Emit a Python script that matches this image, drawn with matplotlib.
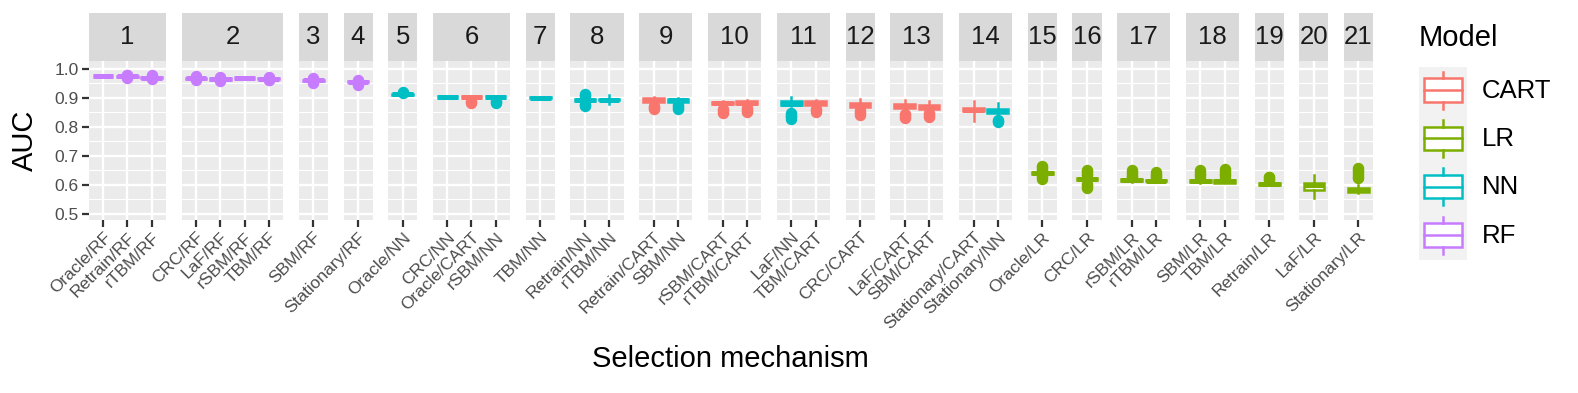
import matplotlib
matplotlib.use('Agg')
import matplotlib.pyplot as plt
from matplotlib.patches import Rectangle
from matplotlib.lines import Line2D
from matplotlib.transforms import ScaledTranslation

W, H = 1578, 393
plt.rcParams['font.family'] = ['Liberation Sans', 'DejaVu Sans']

# ---------------- data ----------------
panel_labels = [str(i) for i in range(1, 22)]

categories = ["Oracle/RF", "Retrain/RF", "rTBM/RF",
              "CRC/RF", "LaF/RF", "rSBM/RF", "TBM/RF",
              "SBM/RF",
              "Stationary/RF",
              "Oracle/NN",
              "CRC/NN", "Oracle/CART", "rSBM/NN",
              "TBM/NN",
              "Retrain/NN", "rTBM/NN",
              "Retrain/CART", "SBM/NN",
              "rSBM/CART", "rTBM/CART",
              "LaF/NN", "TBM/CART",
              "CRC/CART",
              "LaF/CART", "SBM/CART",
              "Stationary/CART", "Stationary/NN",
              "Oracle/LR",
              "CRC/LR",
              "rSBM/LR", "rTBM/LR",
              "SBM/LR", "TBM/LR",
              "Retrain/LR",
              "LaF/LR",
              "Stationary/LR"]

cat_panel = [1, 1, 1, 2, 2, 2, 2, 3, 4, 5, 6, 6, 6, 7, 8, 8, 9, 9, 10, 10,
             11, 11, 12, 13, 13, 14, 14, 15, 16, 17, 17, 18, 18, 19, 20, 21]

cat_model = [c.split("/")[1] for c in categories]

med = [0.975, 0.974, 0.970, 0.968, 0.965, 0.969, 0.966, 0.960, 0.955, 0.912,
       0.903, 0.903, 0.903, 0.900, 0.893, 0.894, 0.893, 0.892, 0.882, 0.883,
       0.880, 0.881, 0.875, 0.870, 0.868, 0.859, 0.855, 0.640, 0.619, 0.615,
       0.614, 0.612, 0.612, 0.603, 0.598, 0.580]
q1 = [0.974, 0.972, 0.968, 0.966, 0.963, 0.968, 0.964, 0.958, 0.953, 0.911,
      0.902, 0.902, 0.902, 0.899, 0.890, 0.891, 0.887, 0.886, 0.877, 0.878,
      0.874, 0.874, 0.869, 0.863, 0.862, 0.853, 0.849, 0.637, 0.615, 0.612,
      0.611, 0.608, 0.607, 0.600, 0.580, 0.575]
q3 = [0.976, 0.976, 0.972, 0.970, 0.967, 0.970, 0.968, 0.962, 0.957, 0.913,
      0.904, 0.904, 0.904, 0.901, 0.896, 0.897, 0.899, 0.897, 0.887, 0.888,
      0.890, 0.888, 0.882, 0.878, 0.875, 0.866, 0.862, 0.643, 0.623, 0.618,
      0.617, 0.616, 0.617, 0.606, 0.607, 0.588]
whislo = [0.973, 0.971, 0.967, 0.965, 0.962, 0.967, 0.963, 0.957, 0.952, 0.910,
          0.901, 0.901, 0.901, 0.898, 0.888, 0.877, 0.885, 0.884, 0.875, 0.876,
          0.872, 0.872, 0.866, 0.860, 0.859, 0.821, 0.845, 0.635, 0.612, 0.610,
          0.609, 0.606, 0.605, 0.598, 0.555, 0.570]
whishi = [0.977, 0.977, 0.973, 0.971, 0.968, 0.971, 0.969, 0.963, 0.958, 0.914,
          0.905, 0.905, 0.905, 0.902, 0.898, 0.909, 0.901, 0.899, 0.890, 0.893,
          0.901, 0.893, 0.896, 0.893, 0.890, 0.889, 0.881, 0.645, 0.626, 0.620,
          0.619, 0.618, 0.620, 0.608, 0.633, 0.600]
fliers = [
    [],
    [0.969, 0.971, 0.978, 0.980],
    [0.964, 0.967, 0.974, 0.977],
    [0.962, 0.965, 0.972, 0.975],
    [0.957, 0.960, 0.970, 0.973],
    [],
    [0.961, 0.963, 0.970, 0.972],
    [0.952, 0.955, 0.965, 0.967],
    [0.945, 0.948, 0.958, 0.960],
    [0.917, 0.921],
    [],
    [0.882, 0.886, 0.890],
    [0.882, 0.886, 0.890],
    [],
    [0.872, 0.876, 0.880, 0.906, 0.910, 0.913],
    [],
    [0.860, 0.864, 0.868, 0.872],
    [0.862, 0.866, 0.870, 0.874],
    [0.848, 0.852, 0.857, 0.862],
    [0.852, 0.856, 0.860, 0.865],
    [0.827, 0.832, 0.837, 0.842, 0.847],
    [0.852, 0.857, 0.862],
    [0.842, 0.847, 0.852, 0.857],
    [0.830, 0.835, 0.840, 0.845],
    [0.833, 0.838, 0.843, 0.848],
    [],
    [0.816, 0.820, 0.825],
    [0.620, 0.625, 0.630, 0.650, 0.655, 0.660, 0.666],
    [0.588, 0.593, 0.598, 0.603, 0.633, 0.638, 0.643, 0.648, 0.652],
    [0.625, 0.630, 0.635, 0.640, 0.645, 0.649],
    [0.625, 0.628, 0.633, 0.638, 0.645],
    [0.627, 0.632, 0.638, 0.643, 0.649],
    [0.627, 0.632, 0.638, 0.644, 0.650, 0.655],
    [0.615, 0.620, 0.625, 0.628],
    [],
    [0.622, 0.628, 0.634, 0.640, 0.646, 0.652, 0.656],
]

model_names = ["CART", "LR", "NN", "RF"]
model_colors = {"CART": "#F8766D", "LR": "#7CAE00", "NN": "#00BFC4", "RF": "#C77CFF"}

y_breaks = [0.5, 0.6, 0.7, 0.8, 0.9, 1.0]
y_minor = [0.55, 0.65, 0.75, 0.85, 0.95]

# ---------------- figure ----------------
fig = plt.figure(figsize=(W / 100, H / 100), dpi=100)
npan = len(panel_labels)
counts = [cat_panel.count(p + 1) for p in range(npan)]

left_px, right_px, top_px, bot_px = 88.7, 1373.0, 61.0, 220.0
gap_px = 15.6
avg_w = (right_px - left_px - (npan - 1) * gap_px) / npan
gs = fig.add_gridspec(1, npan, left=left_px / W, right=right_px / W,
                      top=1 - top_px / H, bottom=1 - bot_px / H,
                      width_ratios=[c + 0.2 for c in counts],
                      wspace=gap_px / avg_w)

strip_h = 47.7 / (bot_px - top_px)
tick_col = "#333333"
txt_col = "#4D4D4D"
lab_shift = ScaledTranslation(4 / 100, -5 / 100, fig.dpi_scale_trans)

for p in range(npan):
    ax = fig.add_subplot(gs[0, p])
    idx = [i for i, c in enumerate(cat_panel) if c == p + 1]
    n = len(idx)
    ax.set_facecolor("#EBEBEB")
    for s in ax.spines.values():
        s.set_visible(False)
    ax.set_xlim(0.4, n + 0.6)
    ax.set_ylim(0.478, 1.027)
    ax.set_yticks(y_breaks)
    ax.set_yticks(y_minor, minor=True)
    ax.set_axisbelow(True)
    ax.grid(True, which="major", color="white", lw=1.7)
    ax.grid(True, which="minor", axis="y", color="white", lw=0.85)
    ax.tick_params(axis="y", which="minor", length=0)

    for j, i in enumerate(idx):
        col = model_colors[cat_model[i]]
        st = dict(med=med[i], q1=q1[i], q3=q3[i], whislo=whislo[i],
                  whishi=whishi[i], fliers=fliers[i])
        ax.bxp([st], positions=[j + 1], widths=0.85, patch_artist=True,
               showcaps=False,
               boxprops=dict(facecolor="white", edgecolor=col, lw=1.8),
               medianprops=dict(color=col, lw=3.6, solid_capstyle="butt"),
               whiskerprops=dict(color=col, lw=1.8),
               flierprops=dict(marker="o", markerfacecolor=col,
                               markeredgecolor=col, markersize=7.2,
                               linestyle="none"))

    ax.set_xticks(range(1, n + 1))
    ax.set_xticklabels([categories[i] for i in idx], rotation=45, ha="right",
                       va="top", rotation_mode="anchor",
                       fontsize=12.5, color=txt_col)
    for lab in ax.get_xticklabels():
        lab.set_transform(lab.get_transform() + lab_shift)
    ax.tick_params(axis="x", length=5, width=1.6, color=tick_col, pad=2)
    if p == 0:
        ax.set_yticklabels([f"{v:.1f}" for v in y_breaks], fontsize=12.5,
                           color=txt_col)
        ax.tick_params(axis="y", which="major", length=5, width=1.6,
                       color=tick_col, pad=2)
    else:
        ax.tick_params(axis="y", which="major", length=0, labelleft=False)

    ax.add_patch(Rectangle((0, 1), 1, strip_h, transform=ax.transAxes,
                           clip_on=False, facecolor="#D9D9D9", edgecolor="none"))
    ax.text(0.5, 1 + strip_h / 2, panel_labels[p], transform=ax.transAxes,
            ha="center", va="center", fontsize=18.5, color="#1A1A1A")

fig.text(25 / W, 1 - 140.5 / H, "AUC", rotation=90, ha="center", va="center",
         fontsize=21)
fig.text((left_px + right_px) / 2 / W, 1 - 359 / H, "Selection mechanism",
         ha="center", va="center", fontsize=21)

# ---------------- legend ----------------
fig.text(1419 / W, 1 - 38 / H, "Model", ha="left", va="center", fontsize=21)
key = 48.3
lax = fig.add_axes([1419 / W, 1 - (66.7 + 4 * key) / H, 48 / W, 4 * key / H])
lax.set_xlim(0, 48)
lax.set_ylim(4 * key, 0)
lax.axis("off")
lax.add_patch(Rectangle((0, 0), 48, 4 * key, facecolor="#F2F2F2",
                        edgecolor="none"))
for k, m in enumerate(model_names):
    col = model_colors[m]
    t = k * key
    lax.add_line(Line2D([24, 24], [t + 5, t + 11.6], color=col, lw=1.8))
    lax.add_line(Line2D([24, 24], [t + 35, t + 42], color=col, lw=1.8))
    lax.add_patch(Rectangle((4.5, t + 11.6), 38, 23.4, facecolor="white",
                            edgecolor=col, lw=1.8))
    lax.add_line(Line2D([4.5, 42.5], [t + 23.3, t + 23.3], color=col, lw=1.8))
    lax.text(63, t + key / 2, m, ha="left", va="center", fontsize=18.5,
             color="black", clip_on=False)

fig.savefig("out.png", dpi=100)
